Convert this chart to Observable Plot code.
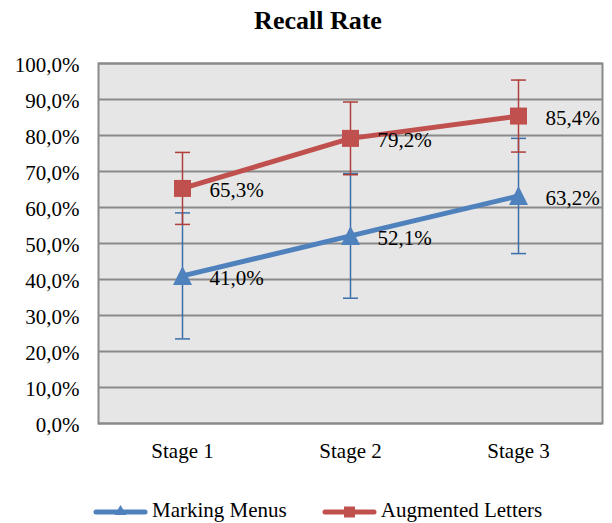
<!DOCTYPE html>
<html>
<head>
<meta charset="utf-8">
<script src="https://cdn.jsdelivr.net/npm/d3@7"></script>
<script src="https://cdn.jsdelivr.net/npm/@observablehq/plot@0.6"></script>
<style>
  html, body { margin: 0; padding: 0; background: #fff; }
  body { width: 612px; height: 523px; overflow: hidden; font-family: "Liberation Serif", "Times New Roman", serif; color: #000; }
  #title { height: 42px; line-height: 42px; font-size: 26px; font-weight: bold; text-align: center; padding-left: 24px; box-sizing: border-box; }
  #legend { height: 41px; box-sizing: border-box; padding-top: 15px; padding-left: 93px; display: flex; align-items: center; font-size: 21px; line-height: 24px; }
  .item { display: flex; align-items: center; margin-right: 35px; }
  .item svg { margin-right: 4px; }
  #chart svg, #chart svg text { font-family: "Liberation Serif", "Times New Roman", serif !important; }
</style>
</head>
<body>
<div id="title">Recall Rate</div>
<div id="chart"></div>
<div id="legend"></div>
<script>
const stages = ["Stage 1", "Stage 2", "Stage 3"];
const seriesNames = ["Marking Menus", "Augmented Letters"];
const markingMenus = [41.0, 52.1, 63.2];
const markingMenusErr = [17.5, 17.3, 16.0];
const augmentedLetters = [65.3, 79.2, 85.4];
const augmentedLettersErr = [10.0, 10.1, 10.0];
const yTicks = [0, 10, 20, 30, 40, 50, 60, 70, 80, 90, 100];

const serif = '"Liberation Serif", "Times New Roman", serif';
const fmt = v => v.toFixed(1).replace(".", ",") + "%";

const triangleSym = { draw(ctx) { ctx.moveTo(0, -10); ctx.lineTo(9.5, 9); ctx.lineTo(-9.5, 9); ctx.closePath(); } };
const squareSym = { draw(ctx) { ctx.rect(-8.5, -8.5, 17, 17); } };
const capSym = { draw(ctx) { ctx.moveTo(-7.5, 0); ctx.lineTo(7.5, 0); } };

const series = [
  { name: seriesNames[0], values: markingMenus, errs: markingMenusErr, color: "#4f81bd", errColor: "#3c6eaa", symbol: triangleSym },
  { name: seriesNames[1], values: augmentedLetters, errs: augmentedLettersErr, color: "#c0504d", errColor: "#b03f3c", symbol: squareSym }
];

const marks = [
  Plot.frame({ fill: "#e6e6e6" }),
  Plot.gridY(yTicks, { stroke: "#8a8a8a", strokeOpacity: 1, strokeWidth: 2 }),
  Plot.frame({ stroke: "#8a8a8a", strokeWidth: 2 }),
  Plot.axisY(yTicks, { tickSize: 0, tickPadding: 19, tickFormat: fmt, fontSize: 21, fontFamily: serif, dy: 2, label: null }),
  Plot.axisX({ tickSize: 0, tickPadding: 20, fontSize: 21, fontFamily: serif, label: null })
];

for (const s of series) {
  const rows = stages.map((stage, i) => ({ stage, value: s.values[i], err: s.errs[i] }));
  marks.push(
    Plot.ruleX(rows, { x: "stage", y1: d => d.value - d.err, y2: d => d.value + d.err, stroke: s.errColor, strokeWidth: 1.5 }),
    Plot.dot(rows, { x: "stage", y: d => d.value - d.err, symbol: capSym, stroke: s.errColor, strokeWidth: 1.5, fill: "none" }),
    Plot.dot(rows, { x: "stage", y: d => d.value + d.err, symbol: capSym, stroke: s.errColor, strokeWidth: 1.5, fill: "none" })
  );
}
for (const s of series) {
  const rows = stages.map((stage, i) => ({ stage, value: s.values[i] }));
  marks.push(
    Plot.line(rows, { x: "stage", y: "value", stroke: s.color, strokeWidth: 5, strokeLinecap: "round" }),
    Plot.dot(rows, { x: "stage", y: "value", symbol: s.symbol, fill: s.color, stroke: "none" }),
    Plot.text(rows, { x: "stage", y: "value", text: d => fmt(d.value), dx: 27, dy: 2, textAnchor: "start", fontSize: 21, fontFamily: serif, fill: "#000" })
  );
}

const chart = Plot.plot({
  width: 612,
  height: 440,
  marginLeft: 98,
  marginRight: 10,
  marginTop: 21,
  marginBottom: 59,
  style: { fontFamily: serif, fontSize: "21px", color: "#000", background: "transparent", overflow: "visible" },
  x: { type: "point", domain: stages, padding: 0.5, label: null },
  y: { domain: [0, 100], label: null },
  marks
});
document.getElementById("chart").appendChild(chart);

// legend
const legend = document.getElementById("legend");
for (const s of series) {
  const item = document.createElement("div");
  item.className = "item";
  const ns = "http://www.w3.org/2000/svg";
  const svg = document.createElementNS(ns, "svg");
  svg.setAttribute("width", 55);
  svg.setAttribute("height", 20);
  const line = document.createElementNS(ns, "line");
  line.setAttribute("x1", 3); line.setAttribute("x2", 52);
  line.setAttribute("y1", 12); line.setAttribute("y2", 12);
  line.setAttribute("stroke", s.color); line.setAttribute("stroke-width", 5);
  line.setAttribute("stroke-linecap", "round");
  svg.appendChild(line);
  const mk = document.createElementNS(ns, "path");
  const p = d3.path();
  if (s.symbol === triangleSym) { p.moveTo(27.5, 5); p.lineTo(33.5, 15); p.lineTo(21.5, 15); p.closePath(); }
  else { p.rect(22, 6.5, 11, 11); }
  mk.setAttribute("d", p.toString());
  mk.setAttribute("fill", s.color);
  svg.appendChild(mk);
  item.appendChild(svg);
  const span = document.createElement("span");
  span.textContent = s.name;
  item.appendChild(span);
  legend.appendChild(item);
}
</script>
</body>
</html>
